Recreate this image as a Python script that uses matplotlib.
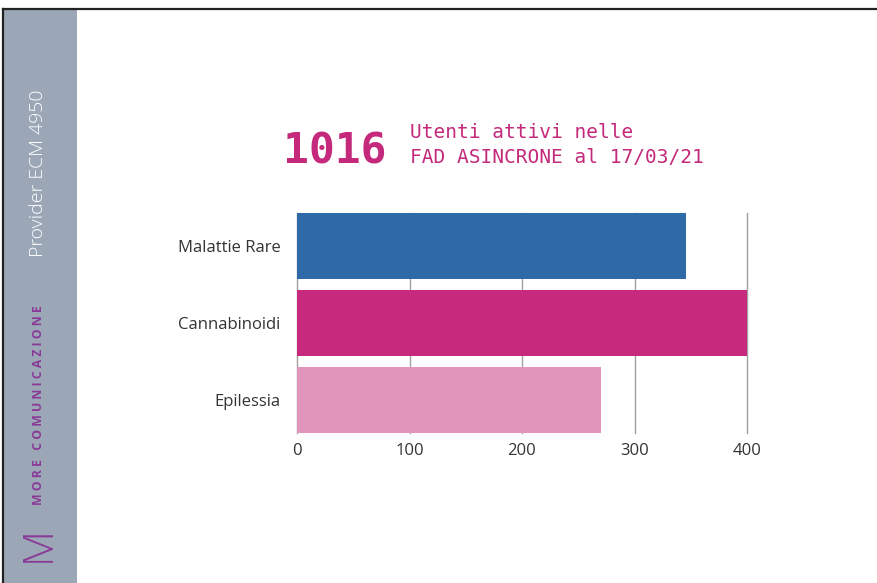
import matplotlib.pyplot as plt
from matplotlib.patches import Rectangle
from matplotlib.lines import Line2D

# data
categories = ['Malattie Rare', 'Cannabinoidi', 'Epilessia']
values = [346, 400, 270]
bar_colors = ['#2e6aa7', '#c72a7c', '#e295bb']
xticks = [0, 100, 200, 300, 400]
total = 1016

PINK = '#c4297b'
PURPLE = '#8a3a96'

fig = plt.figure(figsize=(8.77, 5.83), dpi=100)
fig.patch.set_facecolor('white')

# sidebar + frame
fig.add_artist(Rectangle((3/877, 0), 74/877, 1 - 9/583, transform=fig.transFigure,
                         facecolor='#9ba7b7', edgecolor='none', zorder=0))
fig.add_artist(Line2D([2.5/877, 1], [1 - 8.5/583, 1 - 8.5/583], transform=fig.transFigure,
                      color='#222222', lw=1.6))
fig.add_artist(Line2D([2.5/877, 2.5/877], [0, 1 - 8.5/583], transform=fig.transFigure,
                      color='#222222', lw=1.6))

fig.text(38/877, 1 - 173/583, 'Provider ECM 4950', rotation=90, color='white',
         family='Open Sans', fontweight='light', fontsize=14, ha='center', va='center')
fig.text(39/877, 1 - 405/583, 'M O R E   C O M U N I C A Z I O N E', rotation=90,
         color=PURPLE, family='Open Sans', fontweight='bold', fontsize=8.8,
         ha='center', va='center')
fig.text(39/877, 1 - 544/583, 'M', rotation=90, color=PURPLE, family='Open Sans',
         fontweight='light', fontsize=30, ha='center', va='center')

# title
fig.text(283/877, 1 - 163/583, str(total), color=PINK, family='DejaVu Sans Mono',
         fontweight='bold', fontsize=31, ha='left', va='baseline')
fig.text(410/877, 1 - 138/583, 'Utenti attivi nelle', color=PINK,
         family='DejaVu Sans Mono', fontsize=14, ha='left', va='baseline')
fig.text(410/877, 1 - 163/583, 'FAD ASINCRONE al 17/03/21', color=PINK,
         family='DejaVu Sans Mono', fontsize=14, ha='left', va='baseline')

# bars
ax = fig.add_axes([297/877, 1 - 433/583, 450/877, 220/583])
ypos = list(range(len(categories)))
ax.barh(ypos, values, height=0.86, color=bar_colors, zorder=2)
ax.set_xlim(0, 400)
ax.set_ylim(2.43, -0.43)
ax.set_yticks(ypos)
ax.set_yticklabels(categories)
ax.set_xticks(xticks)
for x in xticks:
    ax.axvline(x, color='#a0a0a0', lw=1, zorder=1, clip_on=False)
for s in ax.spines.values():
    s.set_visible(False)
ax.tick_params(length=0, labelsize=12, colors='#333333')
ax.tick_params(axis='y', pad=12)
ax.tick_params(axis='x', pad=7)
for lab in ax.get_xticklabels() + ax.get_yticklabels():
    lab.set_family('Open Sans')
ax.set_facecolor('none')

fig.savefig('out.png', dpi=100)
